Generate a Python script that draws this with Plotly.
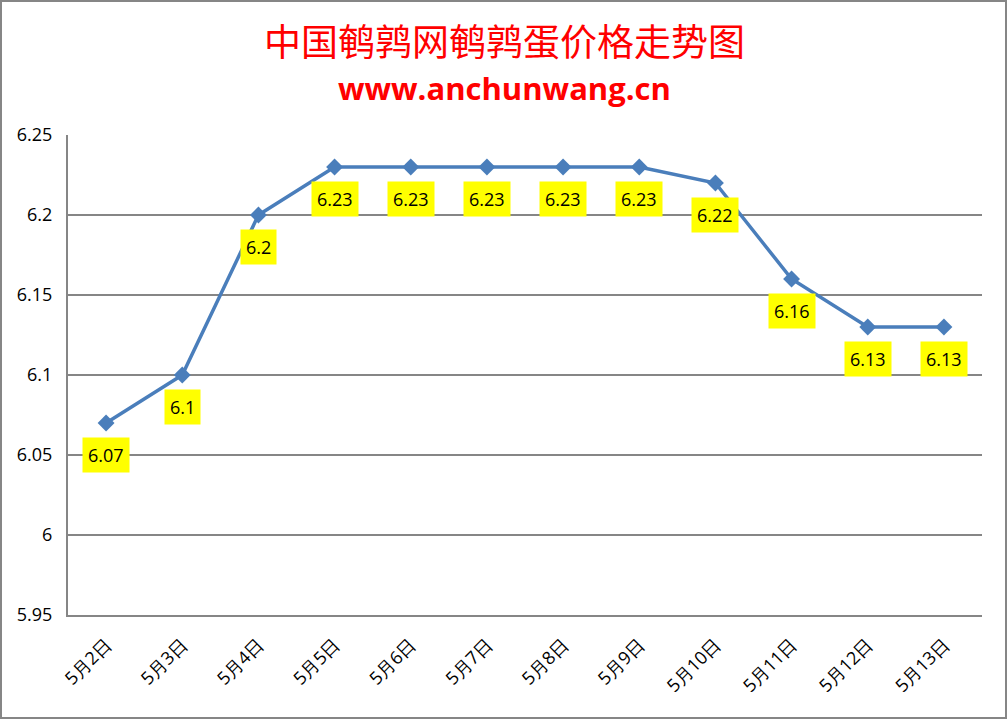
import plotly.graph_objects as go

categories = ["5月2日", "5月3日", "5月4日", "5月5日", "5月6日", "5月7日",
              "5月8日", "5月9日", "5月10日", "5月11日", "5月12日", "5月13日"]
prices = [6.07, 6.10, 6.20, 6.23, 6.23, 6.23, 6.23, 6.23, 6.22, 6.16, 6.13, 6.13]
label_texts = ["6.07", "6.1", "6.2", "6.23", "6.23", "6.23", "6.23", "6.23", "6.22", "6.16", "6.13", "6.13"]
y_ticks = [5.95, 6.0, 6.05, 6.1, 6.15, 6.2, 6.25]
y_tick_text = ["5.95", "6", "6.05", "6.1", "6.15", "6.2", "6.25"]

W, H = 1007, 719
ML, MR, MT, MB = 68, 25, 135, 104

fig = go.Figure()
fig.add_trace(go.Scatter(
    x=categories, y=prices, mode="lines+markers",
    line=dict(color="#4a7ebb", width=3.5),
    marker=dict(symbol="diamond", size=13, color="#4a7ebb"),
    showlegend=False, hoverinfo="skip",
))

for c, v, t in zip(categories, prices, label_texts):
    fig.add_annotation(
        x=c, y=v, text=t, showarrow=False, yshift=-32,
        bgcolor="#ffff00", borderpad=5,
        font=dict(family="Open Sans, DejaVu Sans", size=18, color="black"),
    )

pw = W - ML - MR
ph = H - MT - MB
fig.add_shape(type="rect", xref="paper", yref="paper",
              x0=(-ML + 1) / pw, x1=1 + (MR - 1) / pw,
              y0=(-MB + 1) / ph, y1=1 + (MT - 1) / ph,
              line=dict(color="#868686", width=2), layer="below")

fig.add_annotation(
    xref="paper", yref="paper", x=(504 - ML) / pw, y=1 + (MT - 40) / ph,
    xanchor="center", yanchor="middle",
    text="中国鹌鹑网鹌鹑蛋价格走势图", showarrow=False,
    font=dict(family="Noto Sans CJK SC", size=37, color="#ff0000"),
)
fig.add_annotation(
    xref="paper", yref="paper", x=(504 - ML) / pw, y=1 + (MT - 88) / ph,
    xanchor="center", yanchor="middle",
    text="<b>www.anchunwang.cn</b>", showarrow=False,
    font=dict(family="Open Sans", size=31, color="#ff0000"),
)

fig.update_layout(
    width=W, height=H,
    margin=dict(l=ML, r=MR, t=MT, b=MB),
    paper_bgcolor="white", plot_bgcolor="white",
    font=dict(family="Open Sans, DejaVu Sans", color="black"),
    xaxis=dict(
        type="category", tickangle=-45, showgrid=False,
        showline=True, linecolor="#868686", linewidth=2,
        ticks="", tickfont=dict(size=18, color="black"),
        ticklabelstandoff=10,
        range=[-0.5, len(categories) - 0.5], fixedrange=True,
    ),
    yaxis=dict(
        range=[5.95, 6.25], tickvals=y_ticks, ticktext=y_tick_text,
        showgrid=True, gridcolor="#868686", gridwidth=2,
        showline=True, linecolor="#868686", linewidth=2,
        ticks="", tickfont=dict(size=18, color="black"),
        ticklabelstandoff=10,
        zeroline=False, fixedrange=True,
    ),
)

fig.write_html("out.html", config={"displayModeBar": False},
               post_script="document.body.style.margin='0';")
